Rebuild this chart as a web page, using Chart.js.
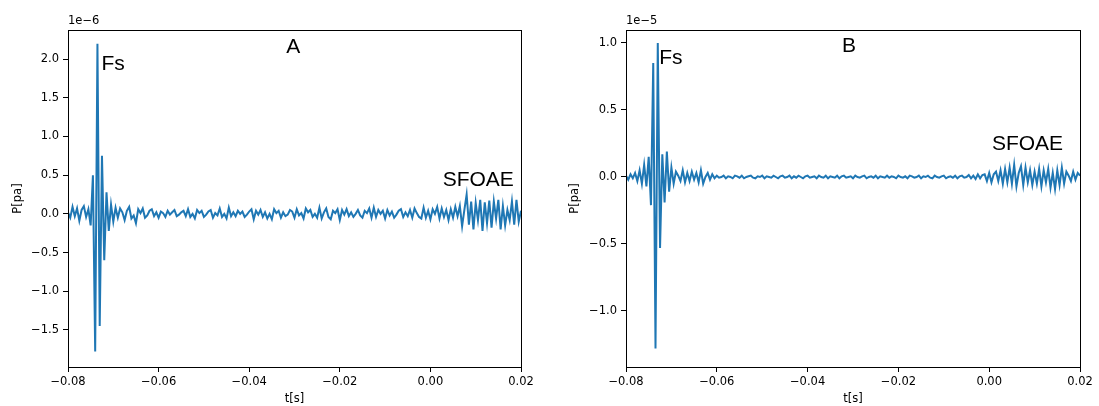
<!DOCTYPE html>
<html lang="en">
<head>
<meta charset="UTF-8">
<title>Fs / SFOAE</title>
<script src="https://cdn.jsdelivr.net/npm/chart.js"></script>
<style>
    body { margin: 0; background: #fff; }
    #wrapA { position: absolute; left: 0; top: 0; }
    #wrapB { position: absolute; left: 549px; top: 0; }
</style>
</head>
<body>
<div id="wrapA"><canvas id="chartA" width="549" height="406"></canvas></div>
<div id="wrapB"><canvas id="chartB" width="550" height="406"></canvas></div>

<script>
// time axis: samples every 0.5 ms from -80 ms
const tStart = -0.08;
const tStep = 0.0005;

// panel A pressure, in units of 1e-6 Pa
const pressureA = [
    0.02,-0.05,0.09,-0.03,0.07,-0.09,0.05,0.1,-0.04,0.06,
    -0.15,0.5,-1.78,2.2,-1.45,0.75,-0.6,0.28,-0.22,0.12,
    -0.1,0.08,-0.05,0.07,0.02,-0.08,0.04,0.09,-0.06,-0.02,
    -0.12,0.06,0.01,0.07,-0.05,-0.02,0.04,0.06,-0.03,0.02,
    -0.05,0.03,0.01,-0.04,0.04,-0.01,0.02,0.05,-0.03,-0.01,
    0.02,0.04,-0.03,0.06,-0.04,0.0,-0.06,0.05,0.01,0.04,
    -0.04,-0.01,0.03,0.05,-0.05,0.01,-0.02,0.07,-0.04,0.0,
    -0.06,0.08,-0.03,0.02,-0.03,0.04,0.0,0.03,-0.04,-0.01,
    0.03,0.06,-0.07,0.04,-0.01,0.05,-0.04,0.02,-0.06,0.0,
    -0.07,0.06,0.01,0.04,-0.05,0.02,-0.03,-0.01,0.05,0.03,
    -0.05,0.06,-0.02,0.01,-0.06,0.07,0.02,0.05,-0.04,0.0,
    -0.05,0.08,-0.06,0.02,0.07,-0.04,-0.07,0.04,0.01,0.06,
    -0.08,0.05,-0.01,0.06,-0.03,0.02,-0.04,0.0,0.05,-0.02,
    -0.05,0.04,0.01,0.07,-0.05,0.08,-0.04,0.05,0.0,0.04,
    -0.06,0.05,-0.02,0.03,-0.05,-0.01,0.04,0.06,-0.04,0.02,
    -0.03,0.05,-0.05,0.07,0.01,-0.04,-0.06,0.08,-0.05,0.04,
    -0.07,0.06,0.0,0.09,-0.06,0.07,-0.04,0.05,-0.08,0.06,
    -0.05,0.09,-0.03,0.1,-0.16,0.05,0.25,-0.14,0.16,-0.2,
    0.14,-0.08,0.18,-0.22,0.15,-0.12,0.17,-0.18,0.16,-0.06,
    0.18,-0.2,0.1,-0.15,0.05,-0.08,0.16,-0.14,0.18,-0.1,
    0.04
];

// panel B pressure, in units of 1e-5 Pa
const pressureB = [
    0.01,-0.02,0.02,-0.01,0.03,-0.03,0.05,-0.05,0.09,-0.07,
    0.15,-0.21,0.85,-1.28,1.0,-0.53,0.17,-0.19,0.19,-0.11,
    0.07,-0.05,0.04,0.01,-0.03,0.05,-0.04,0.03,-0.03,0.04,
    -0.02,0.03,-0.04,0.05,-0.05,0.0,0.03,-0.02,0.02,-0.01,
    0.01,-0.005,0.0,0.01,-0.01,0.005,0.0,-0.01,0.01,0.005,
    -0.005,0.01,-0.01,0.0,0.005,0.01,-0.005,-0.01,0.005,0.0,
    0.01,-0.01,0.005,0.0,-0.005,0.01,0.0,-0.01,0.005,0.01,
    -0.005,0.0,0.01,-0.01,0.005,-0.005,0.01,0.0,-0.01,0.005,
    0.01,-0.005,0.0,0.005,-0.01,0.01,0.0,-0.005,0.01,-0.01,
    0.005,0.0,-0.005,0.01,-0.01,0.005,0.01,-0.005,0.0,0.005,
    -0.01,0.01,0.0,-0.005,0.005,0.01,-0.01,0.0,0.005,-0.005,
    0.01,-0.01,0.005,0.0,-0.005,0.01,-0.005,0.005,0.0,-0.01,
    0.01,0.0,-0.005,0.005,-0.01,0.01,0.005,-0.005,0.0,0.01,
    -0.01,0.005,0.0,0.01,-0.005,-0.01,0.01,0.0,-0.005,0.005,
    0.01,-0.01,0.0,0.005,-0.005,0.01,-0.01,0.005,0.01,-0.005,
    0.0,0.015,-0.01,0.01,-0.015,0.02,-0.01,0.015,0.02,-0.03,
    0.03,-0.04,0.02,0.04,-0.03,0.05,-0.05,0.06,-0.04,0.07,
    -0.05,0.09,-0.07,0.03,0.08,-0.06,0.07,-0.04,0.05,-0.06,
    0.04,-0.05,0.06,-0.07,0.05,-0.04,0.06,-0.08,0.03,-0.09,
    0.05,-0.06,0.07,-0.05,0.04,0.01,-0.03,0.04,-0.02,0.03,
    0.01
];

const xTicks = [-0.08, -0.06, -0.04, -0.02, 0.00, 0.02];
const yTicksA = [-1.5, -1.0, -0.5, 0.0, 0.5, 1.0, 1.5, 2.0];
const yTicksB = [-1.0, -0.5, 0.0, 0.5, 1.0];

// annotations (text, t, value)
const labelsA = ['A', 'Fs', 'SFOAE'];
const labelTA = [-0.0303, -0.0726, 0.0027];
const labelYA = [2.08, 1.86, 0.36];
const labelsB = ['B', 'Fs', 'SFOAE'];
const labelTB = [-0.0309, -0.0727, 0.0006];
const labelYB = [0.93, 0.84, 0.20];

const lineColor = '#1f77b4';
const tickFont = { family: 'DejaVu Sans', size: 11.5 };

function fmt(v, digits) {
    const s = Math.abs(v).toFixed(digits);
    return v < -1e-9 ? '\u2212' + s : s;
}

// frame, offset text and annotations
const decorPlugin = {
    id: 'decor',
    afterDatasetsDraw(chart, args, opts) {
        const ctx = chart.ctx;
        const a = chart.chartArea;
        const xs = chart.scales.x, ys = chart.scales.y;
        ctx.save();
        ctx.fillStyle = '#000';
        ctx.font = '21px "Liberation Sans", Arial, sans-serif';
        ctx.textBaseline = 'alphabetic';
        opts.texts.forEach((txt, i) => {
            ctx.textAlign = i === 0 ? 'center' : 'left';
            ctx.fillText(txt, xs.getPixelForValue(opts.ts[i]), ys.getPixelForValue(opts.vals[i]));
        });
        ctx.strokeStyle = '#000';
        ctx.lineWidth = 1;
        ctx.strokeRect(Math.round(a.left) + 0.5, Math.round(a.top) + 0.5,
            Math.round(a.right - a.left), Math.round(a.bottom - a.top));
        ctx.font = '11.5px "DejaVu Sans", sans-serif';
        ctx.textAlign = 'left';
        ctx.fillText(opts.offsetText, a.left, 24);
        ctx.restore();
    }
};

function makeChart(id, values, yMin, yMax, yTicks, axisWidth, rightPad, yTitlePad, texts, ts, vals, offsetText) {
    const points = values.map((v, i) => ({ x: tStart + i * tStep, y: v }));
    return new Chart(document.getElementById(id), {
        type: 'line',
        data: {
            datasets: [{
                data: points,
                borderColor: lineColor,
                borderWidth: 2,
                pointRadius: 0,
                tension: 0,
                fill: false
            }]
        },
        options: {
            responsive: false,
            animation: false,
            events: [],
            layout: { padding: { top: 30, right: rightPad, left: 0, bottom: 0 } },
            plugins: {
                legend: { display: false },
                tooltip: { enabled: false },
                decor: { texts: texts, ts: ts, vals: vals, offsetText: offsetText }
            },
            scales: {
                x: {
                    type: 'linear',
                    min: -0.08,
                    max: 0.02,
                    afterBuildTicks: s => { s.ticks = xTicks.map(v => ({ value: v })); },
                    afterFit: s => { s.height = 39; },
                    grid: { drawOnChartArea: false, drawTicks: true, tickLength: 5, color: '#000' },
                    border: { display: false },
                    ticks: { color: '#000', font: tickFont, padding: 3, maxRotation: 0,
                             callback: v => fmt(v, 2) },
                    title: { display: true, text: 't[s]', color: '#000', font: tickFont,
                             padding: { top: 0, bottom: 0 } }
                },
                y: {
                    type: 'linear',
                    min: yMin,
                    max: yMax,
                    afterBuildTicks: s => { s.ticks = yTicks.map(v => ({ value: v })); },
                    afterFit: s => { s.width = axisWidth; },
                    grid: { drawOnChartArea: false, drawTicks: true, tickLength: 5, color: '#000' },
                    border: { display: false },
                    ticks: { color: '#000', font: tickFont, padding: 4,
                             callback: v => fmt(v, 1) },
                    title: { display: true, text: 'P[pa]', color: '#000', font: tickFont,
                             padding: { top: yTitlePad, bottom: 0 } }
                }
            }
        },
        plugins: [decorPlugin]
    });
}

makeChart('chartA', pressureA, -1.98, 2.377, yTicksA, 68, 28, 11,
    labelsA, labelTA, labelYA, '1e\u22126');
makeChart('chartB', pressureB, -1.418, 1.097, yTicksB, 77, 19, 19,
    labelsB, labelTB, labelYB, '1e\u22125');
</script>
</body>
</html>
